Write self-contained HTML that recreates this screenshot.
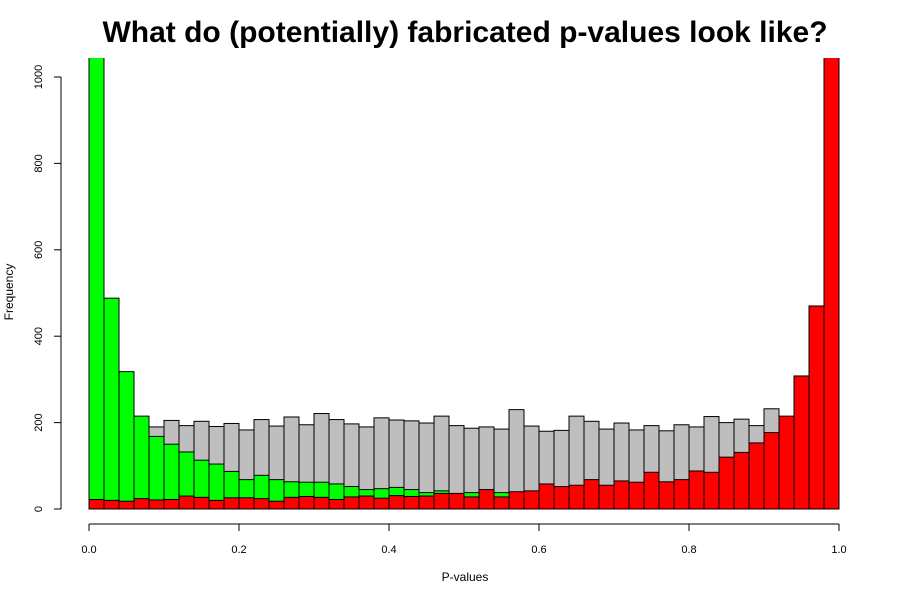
<!DOCTYPE html>
<html><head><meta charset="utf-8"><style>body{margin:0;background:#fff}svg{display:block;font-family:"Liberation Sans",sans-serif}</style></head>
<body>
<svg id="c" width="900" height="600">
<defs><clipPath id="cp"><rect x="60" y="58" width="800" height="470"/></clipPath></defs>
<text x="465" y="42" text-anchor="middle" font-size="30" font-weight="bold">What do (potentially) fabricated p-values look like?</text>
<text x="465" y="581" text-anchor="middle" font-size="12">P-values</text>
<text transform="translate(13,292) rotate(-90)" text-anchor="middle" font-size="12">Frequency</text>
<g id="bars" clip-path="url(#cp)"></g>
<g id="axes"></g>
</svg>
<script>
const grayCounts=[200,205,200,202,190,205,193,203,191,198,183,207,192,213,195,221,207,197,190,211,206,204,199,215,193,187,190,185,230,192,180,182,215,203,185,199,183,193,181,195,190,214,200,208,193,232,200,200,200,200];
const greenCounts=[1300,488,318,215,168,150,132,113,104,87,68,78,68,63,62,62,58,52,45,47,50,45,38,42,36,38,20,38,20,15,15,12,12,10,10,8,8,8,6,6,5,5,4,4,3,3,3,2,2,1];
const redCounts=[22,20,18,24,21,22,30,27,20,26,26,24,18,27,29,27,22,28,30,25,31,29,30,36,36,28,45,28,40,42,58,52,55,68,55,65,62,85,63,68,88,85,120,131,153,177,215,308,470,1300];
const xTicks=[0,0.2,0.4,0.6,0.8,1.0];
const xTickLabels=["0.0","0.2","0.4","0.6","0.8","1.0"];
const yTicks=[0,200,400,600,800,1000];
const binWidth=0.02;
const NS="http://www.w3.org/2000/svg";
const xs=v=>89+v*750;
const ys=v=>509-v*0.432;
const bars=document.getElementById('bars'),axes=document.getElementById('axes');
function mk(t,a,p){const e=document.createElementNS(NS,t);for(const k in a)e.setAttribute(k,a[k]);p.appendChild(e);return e;}
[[grayCounts,'#bebebe','gray'],[greenCounts,'#00ff00','green'],[redCounts,'#ff0000','red']].forEach(([arr,col,nm])=>{
 arr.forEach((v,i)=>{
  const x0=xs(i*binWidth),x1=xs((i+1)*binWidth);
  const r=mk('rect',{x:x0,y:ys(v),width:x1-x0,height:ys(0)-ys(v),fill:col,stroke:'#000','stroke-width':1},bars);
  
  
 });
});
let l=mk('line',{x1:xs(0),x2:xs(1),y1:524,y2:524,stroke:'#000'},axes);


xTicks.forEach((t,i)=>{
 mk('line',{x1:xs(t),x2:xs(t),y1:524,y2:531,stroke:'#000'},axes);
 const tx=mk('text',{x:xs(t),y:553,'text-anchor':'middle','font-size':11},axes);tx.textContent=xTickLabels[i];
 
 
});
l=mk('line',{x1:61,x2:61,y1:ys(0),y2:ys(1000),stroke:'#000'},axes);


yTicks.forEach(t=>{
 mk('line',{x1:54,x2:61,y1:ys(t),y2:ys(t),stroke:'#000'},axes);
 const tx=mk('text',{transform:`translate(42,${ys(t)}) rotate(-90)`,'text-anchor':'middle','font-size':11},axes);tx.textContent=String(t);
 
 
});
</script>
</body></html>
